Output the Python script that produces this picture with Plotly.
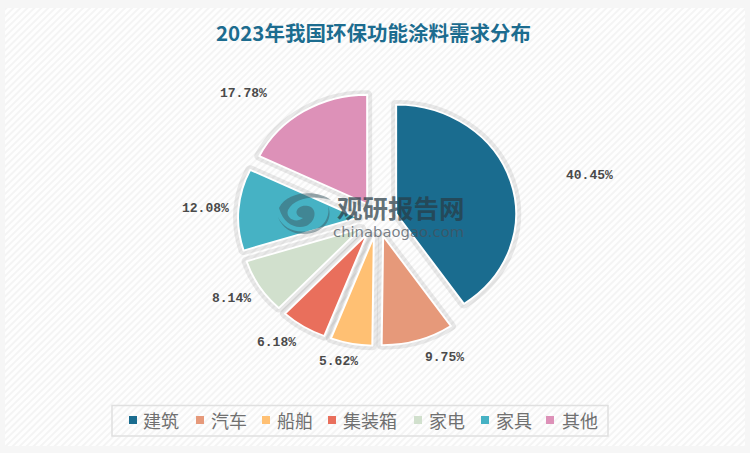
import base64
import plotly.graph_objects as go

title = "2023年我国环保功能涂料需求分布"
categories = ["建筑", "汽车", "船舶", "集装箱", "家电", "家具", "其他"]
shares = [40.45, 9.75, 5.62, 6.18, 8.14, 12.08, 17.78]
colors = ["#1a6c8f", "#e6997a", "#ffc073", "#e96f5c", "#d1e0cd", "#46b2c4", "#dd91b8"]

W, H = 750, 453
label_xy = [(589, 175), (444, 357), (338, 361), (276, 342), (231, 298), (205, 208), (243, 93)]
legend_marker_x = [133, 200, 266, 332, 418, 485, 550]
legend_text_x = [141, 209, 275, 341, 427, 494, 560]
LEG_Y = 420
CLEAR = "rgba(0,0,0,0)"

R, D = 120, 19.5
CX, CY = 377.5, 219
SQUASH = 0.91  # the reference pie is an ellipse, wider than tall
half = R + D
dom = dict(x=[(CX - half) / W, (CX + half) / W], y=[(H - CY - half) / H, (H - CY + half) / H])


def pie(cols, lcol, lw):
    return go.Pie(labels=categories, values=shares, sort=False, direction="clockwise", rotation=0,
                  marker=dict(colors=cols, line=dict(color=lcol, width=lw)), pull=D / R,
                  domain=dom, textinfo="none", hoverinfo="skip", showlegend=False)


fig = go.Figure()
fig.add_trace(pie([CLEAR] * 7, "rgba(90,90,90,0.13)", 10))
fig.add_trace(pie(colors, "white", 2))

for col, mx in zip(colors, legend_marker_x):
    fig.add_trace(go.Scatter(x=[mx], y=[LEG_Y], mode="markers", showlegend=False, hoverinfo="skip",
                             marker=dict(symbol="square", size=8, color=col)))

ann = [dict(x=W / 2 - 2, y=32, text=f"<b>{title}</b>", showarrow=False,
            font=dict(family="Noto Sans CJK SC", size=20.5, color="#1c6c8f"))]
for v, (x, y) in zip(shares, label_xy):
    ann.append(dict(x=x, y=y, text=f"<b>{v:.2f}%</b>", showarrow=False,
                    font=dict(family="Liberation Mono", size=13, color="#4a4a4a")))
for c, tx in zip(categories, legend_text_x):
    ann.append(dict(x=tx, y=LEG_Y - 0.5, text=c, showarrow=False, xanchor="left",
                    font=dict(family="Noto Sans CJK SC", size=18, color="#707070")))
ann.append(dict(x=401, y=206, text="<b>观研报告网</b>", showarrow=False,
                font=dict(family="Noto Sans CJK SC", size=25.5, color="rgba(40,60,70,0.72)")))
ann.append(dict(x=398, y=231, text="chinabaogao.com", showarrow=False,
                font=dict(family="DejaVu Sans", size=14.8, color="rgba(70,80,90,0.72)")))

svg = ("<svg xmlns='http://www.w3.org/2000/svg' width='750' height='453'><defs>"
       "<pattern id='h' width='5' height='5' patternUnits='userSpaceOnUse' patternTransform='rotate(45)'>"
       "<rect width='5' height='5' fill='#fefefe'/><rect width='2' height='5' fill='#f4f4f4'/></pattern></defs>"
       "<rect width='750' height='453' fill='url(#h)'/></svg>")
src = "data:image/svg+xml;base64," + base64.b64encode(svg.encode()).decode()

logo = "rgba(60,90,100,0.5)"
shapes = [
    dict(type="rect", x0=112, x1=608, y0=405.5, y1=436, line=dict(color="#e0e0e0", width=1.5),
         fillcolor="rgba(0,0,0,0)", layer="above"),
    dict(type="path", path="M 279 208 C 288 190, 318 190, 331 200 C 315 195, 295 197, 288 210 C 285 218, 296 224, 303 218 C 292 216, 296 204, 308 206 C 318 208, 316 222, 306 226 C 296 229, 284 225, 279 208 Z",
         fillcolor=logo, line=dict(width=0), layer="above"),
    dict(type="path", path="M 278 217 C 284 230, 300 236, 318 228 C 326 224, 330 214, 328 206 C 334 220, 322 234, 304 234 C 292 234, 282 228, 278 217 Z",
         fillcolor=logo, line=dict(width=0), layer="above"),
]

fig.update_layout(
    width=W, height=H, margin=dict(l=0, r=0, t=0, b=0), autosize=False,
    paper_bgcolor="#f6f6f6", plot_bgcolor="rgba(0,0,0,0)", showlegend=False,
    xaxis=dict(range=[0, W], visible=False, fixedrange=True),
    yaxis=dict(range=[H, 0], visible=False, fixedrange=True),
    annotations=ann, shapes=shapes,
    images=[dict(source=src, xref="x", yref="y", x=5, y=8, sizex=740, sizey=438, sizing="stretch",
                 xanchor="left", yanchor="top", layer="below")],
)
post = ("document.body.style.margin='0';"
        "var g=document.querySelector('.pielayer');"
        f"if(g)g.setAttribute('transform','translate(0,{CY * (1 - SQUASH):.2f}) scale(1,{SQUASH})');")
fig.write_html("out.html", post_script=post, config=dict(displayModeBar=False))
